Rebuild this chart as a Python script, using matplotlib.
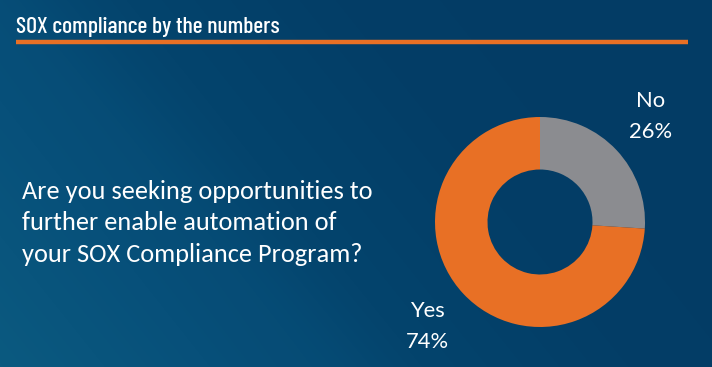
import numpy as np
import matplotlib.pyplot as plt
from matplotlib.colors import LinearSegmentedColormap

# chart content
title = "SOX compliance by the numbers"
question_lines = [
    "Are you seeking opportunities to",
    "further enable automation of",
    "your SOX Compliance Program?",
]
answers = ["No", "Yes"]
shares = [26, 74]
answer_colors = ["#8b8c90", "#e87025"]

W, H = 712, 367

fig = plt.figure(figsize=(W / 100, H / 100), dpi=100)

# background: diagonal blue gradient with soft bands
bg = fig.add_axes([0, 0, 1, 1])
yy, xx = np.mgrid[0:H, 0:W]
t = (xx / W) * 0.85 + (1 - yy / H) * 0.35
t = np.clip(t, 0, 1)
band = 0.04 * np.exp(-((xx + (H - yy) * 0.9 - 330) / 60.0) ** 2)
t = np.clip(t - band, 0, 1)
cmap = LinearSegmentedColormap.from_list(
    "bg", ["#0b5a80", "#07507a", "#04446d", "#033e67", "#033c65"])
bg.imshow(t, cmap=cmap, aspect="auto", extent=[0, W, H, 0], vmin=0, vmax=1)
bg.set_xlim(0, W)
bg.set_ylim(H, 0)
bg.axis("off")

# title and orange rule
bg.text(16, 33, title, color="white", fontsize=17.0,
        family="Barlow Condensed", weight="medium",
        ha="left", va="baseline")
bg.plot([16, 688], [41.5, 41.5], color="#e87025", lw=3.2,
        solid_capstyle="butt")

# question
for i, line in enumerate(question_lines):
    bg.text(22, 199 + 31.3 * i, line, color="white", fontsize=19.0,
            family="Carlito", ha="left", va="baseline")

# donut
ax = fig.add_axes([435 / W, 40 / H, 210 / W, 210 / H])
ax.pie(shares, colors=answer_colors, startangle=90, counterclock=False,
       radius=1.0, wedgeprops=dict(width=0.5, edgecolor="none"))
ax.set_xlim(-1, 1)
ax.set_ylim(-1, 1)
ax.set_aspect("equal")
ax.axis("off")

label_pos = [(651, 101), (427, 311)]
for name, val, (lx, ly) in zip(answers, shares, label_pos):
    bg.text(lx, ly, name, color="white", fontsize=15.8, family="Lato",
            ha="center", va="center")
    bg.text(lx, ly + 31.5, f"{val}%", color="white", fontsize=15.8,
            family="Lato", ha="center", va="center")

fig.savefig("out.png", dpi=100)
